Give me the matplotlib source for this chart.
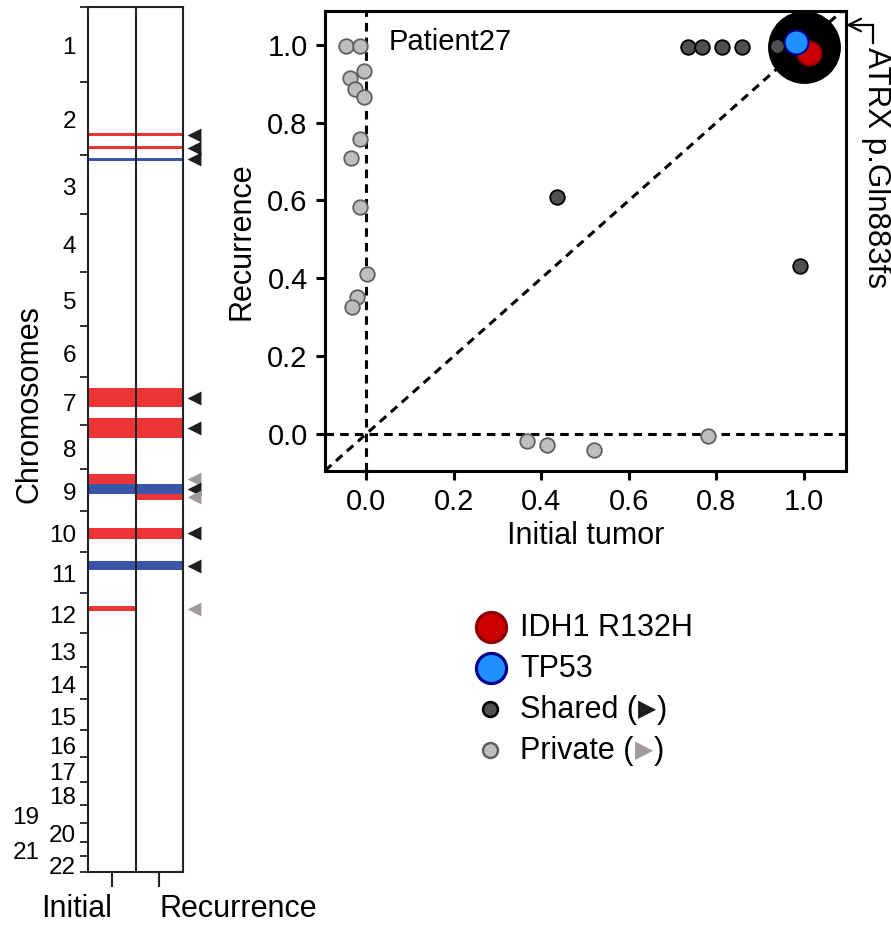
import matplotlib
matplotlib.use("Agg")
import matplotlib.pyplot as plt
import matplotlib.transforms as mtransforms
import numpy as np

plt.rcParams["font.family"] = ["Liberation Sans", "DejaVu Sans"]

# hg19 autosome lengths in Mb
chrom_names = [str(i) for i in range(1, 23)]
chrom_lengths = [249.25, 243.20, 198.02, 191.15, 180.92, 171.12, 159.14, 146.36,
                 141.21, 135.53, 135.01, 133.85, 115.17, 107.35, 102.53, 90.35,
                 81.20, 78.08, 59.13, 63.03, 48.13, 51.30]

# copy number segments (Mb from chromosome start)
seg_chrom = ["2", "2", "3", "7", "7", "9", "9", "9", "10", "11", "12"]
seg_start = [172, 214, 10, 37, 137, 17, 49, 82, 55, 31, 46]
seg_end = [182, 224, 19, 100, 201, 49, 82, 105, 92, 59, 63]
seg_kind = ["gain", "gain", "loss", "gain", "gain", "gain", "loss", "gain", "gain", "loss", "gain"]
seg_initial = [1, 1, 1, 1, 1, 1, 1, 0, 1, 1, 1]
seg_recurrence = [1, 1, 1, 1, 1, 0, 1, 1, 1, 1, 0]

# variant allele fractions: initial tumor vs recurrence
private_x = [-0.046, -0.015, -0.004, -0.037, -0.025, -0.005, -0.014, -0.035,
             -0.015, 0.002, -0.020, -0.032, 0.367, 0.412, 0.521, 0.781]
private_y = [0.996, 0.996, 0.933, 0.914, 0.886, 0.865, 0.758, 0.709,
             0.583, 0.410, 0.353, 0.326, -0.019, -0.028, -0.040, -0.006]
shared_x = [0.734, 0.766, 0.812, 0.859, 0.437, 0.991, 0.938]
shared_y = [0.995, 0.995, 0.995, 0.995, 0.610, 0.432, 0.996]
atrx_x, atrx_y = 1.0, 0.995
idh1_x, idh1_y = 1.011, 0.979
tp53_x, tp53_y = 0.981, 1.008

RED = "#ee3535"
BLUE = "#3a56a8"
W, H = 891, 926


def px_rect(x0, y0, x1, y1):
    return [x0 / W, 1 - y1 / H, (x1 - x0) / W, (y1 - y0) / H]


fig = plt.figure(figsize=(W / 100, H / 100), dpi=100)

# ---- chromosome panel ----
axc = fig.add_axes(px_rect(88, 7, 183, 871.7))
chrom_start = dict(zip(chrom_names, np.concatenate([[0], np.cumsum(chrom_lengths)[:-1]])))
genome_len = float(np.sum(chrom_lengths))
bounds = np.concatenate([[0], np.cumsum(chrom_lengths)])

axc.set_xlim(0, 2)
axc.set_ylim(genome_len, 0)

arrow_tr = mtransforms.blended_transform_factory(axc.transAxes, axc.transData)
for c, s, e, k, ini, rec in zip(seg_chrom, seg_start, seg_end, seg_kind,
                                seg_initial, seg_recurrence):
    y0 = chrom_start[c] + s
    y1 = chrom_start[c] + e
    color = RED if k == "gain" else BLUE
    for col, present in enumerate([ini, rec]):
        if present:
            axc.bar(col, y1 - y0, bottom=y0, width=1, align="edge",
                    color=color, lw=0, zorder=1)
    arrow_color = "#1e1e1e" if (ini and rec) else "#a09c9a"
    axc.scatter(1.116, (y0 + y1) / 2, marker="<", s=100, color=arrow_color,
                lw=0, transform=arrow_tr, clip_on=False, zorder=3)

axc.axvline(1, color="#222222", lw=1.5, zorder=2)
for sp in axc.spines.values():
    sp.set_linewidth(1.5)
    sp.set_color("#222222")

axc.set_yticks(bounds)
axc.set_yticklabels([])
axc.tick_params(axis="y", direction="out", length=5.8, width=1.3, color="#222222")
axc.set_xticks([0.5, 1.5])
axc.set_xticklabels(["Initial", "Recurrence"], fontsize=22)
axc.tick_params(axis="x", direction="out", length=11, width=1.5, pad=5, color="#222222")
xt = axc.get_xticklabels()
xt[0].set_horizontalalignment("right")
xt[1].set_horizontalalignment("left")

label_tr = mtransforms.blended_transform_factory(axc.transAxes, axc.transData)
for name, st, ln in zip(chrom_names, bounds[:-1], chrom_lengths):
    dx = -35 if name in ("19", "21") else -8.6
    axc.annotate(name, xy=(0, st + ln / 2), xycoords=label_tr,
                 xytext=(dx, -2.9), textcoords="offset points",
                 ha="right", va="center", fontsize=17.5)

fig.text(30 / W, 1 - 404 / H, "Chromosomes", rotation=90, ha="center",
         va="center", fontsize=22)

# ---- scatter panel ----
ax = fig.add_axes(px_rect(325, 10.5, 846, 471))
ax.set_xlim(-0.094, 1.096)
ax.set_ylim(-0.095, 1.088)

dash = (0, (2.8, 2.0))
ax.axhline(0, color="black", lw=2.2, ls=dash, zorder=1)
ax.axvline(0, color="black", lw=2.2, ls=dash, zorder=1)
ax.axline((0, 0), slope=1, color="black", lw=2.2, ls=dash, zorder=1)

ax.scatter(private_x, private_y, s=110, facecolor="#bebebe", edgecolor="#606060",
           lw=1.3, zorder=3)
ax.scatter([atrx_x], [atrx_y], s=2750, color="black", lw=0, zorder=4)
ax.scatter(shared_x, shared_y, s=110, facecolor="#505050", edgecolor="black",
           lw=1.3, zorder=5)
ax.scatter([idh1_x], [idh1_y], s=300, facecolor="#cc0000", edgecolor="#8b0000",
           lw=1.5, zorder=6)
ax.scatter([tp53_x], [tp53_y], s=300, facecolor="#1e90ff", edgecolor="#00008b",
           lw=1.5, zorder=7)

for sp in ax.spines.values():
    sp.set_linewidth(2.2)
ax.set_xticks([0, 0.2, 0.4, 0.6, 0.8, 1.0])
ax.set_yticks([0, 0.2, 0.4, 0.6, 0.8, 1.0])
ax.set_xticklabels(["0.0", "0.2", "0.4", "0.6", "0.8", "1.0"])
ax.set_yticklabels(["0.0", "0.2", "0.4", "0.6", "0.8", "1.0"])
ax.tick_params(direction="out", length=6.5, width=2.2, labelsize=21, pad=6)
ax.set_xlabel("Initial tumor", fontsize=22, labelpad=3)
ax.set_ylabel("Recurrence", fontsize=22, labelpad=8)

ax.text(0.123, 0.962, "Patient27", transform=ax.transAxes, ha="left", va="top",
        fontsize=21)

# ATRX call-out
ax.annotate("", xy=(1.0, 0.9685), xycoords="axes fraction",
            xytext=(1.052, 0.9685), textcoords="axes fraction",
            arrowprops=dict(arrowstyle="->,head_length=0.9,head_width=0.45",
                            lw=1.6, color="black", shrinkA=0, shrinkB=0))
ax.plot([1.052, 1.052], [0.9685, 0.929], transform=ax.transAxes, color="black",
        lw=1.6, clip_on=False)
fig.text(876 / W, 1 - 47 / H, "ATRX p.Gln883fs", rotation=-90, ha="center",
         va="top", fontsize=22.5)

# ---- legend ----
lg = fig.add_axes([0, 0, 1, 1])
lg.set_xlim(0, W)
lg.set_ylim(H, 0)
lg.axis("off")

rows = [627, 668, 709, 750]
lg.scatter([491], [rows[0]], s=470, facecolor="#cc0000", edgecolor="#8b0000", lw=2.3)
lg.scatter([491], [rows[1]], s=470, facecolor="#1e90ff", edgecolor="#00008b", lw=2.3)
lg.scatter([490], [rows[2]], s=115, facecolor="#505050", edgecolor="black", lw=1.8)
lg.scatter([490], [rows[3]], s=115, facecolor="#bebebe", edgecolor="#606060", lw=1.8)

base_off = 9
lg.text(520, rows[0] + base_off, "IDH1 R132H", fontsize=22, va="baseline")
lg.text(520, rows[1] + base_off, "TP53", fontsize=22, va="baseline")

renderer = fig.canvas.get_renderer()
for row, tri_color, word in [(rows[2], "#1e1e1e", "Shared ("),
                             (rows[3], "#a09c9a", "Private (")]:
    t1 = lg.text(520, row + base_off, word, fontsize=22, va="baseline")
    bb = t1.get_window_extent(renderer)
    x_px = lg.transData.inverted().transform((bb.x1, 0))[0]
    t2 = lg.text(x_px + 1, row + base_off - 2, "\u25B6", fontsize=17, va="baseline",
                 color=tri_color, family="DejaVu Sans")
    bb2 = t2.get_window_extent(renderer)
    x_px2 = lg.transData.inverted().transform((bb2.x1, 0))[0]
    lg.text(x_px2 + 1, row + base_off, ")", fontsize=22, va="baseline")

fig.savefig("out.png", dpi=100)
